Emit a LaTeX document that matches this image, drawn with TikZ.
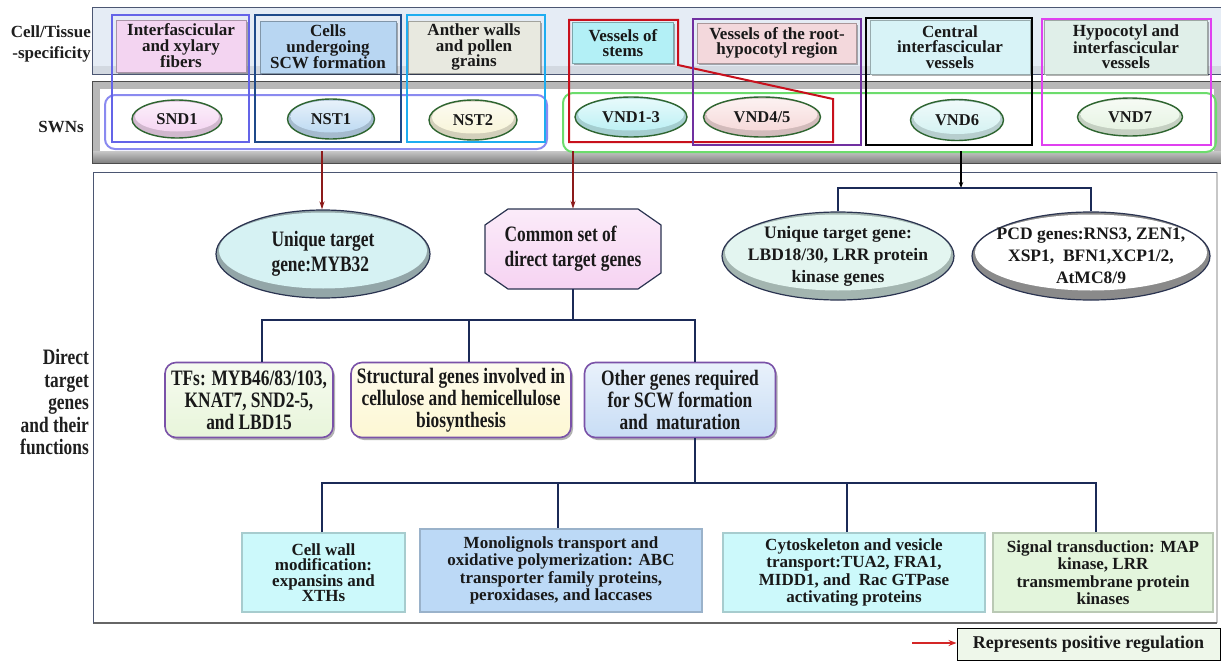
\documentclass[tikz,border=0pt]{standalone}
\usepackage{fontspec}
\setmainfont{Liberation Serif}
\newfontfamily\condserif[FakeStretch=0.79]{Liberation Serif}
\usetikzlibrary{shapes.geometric,calc,arrows.meta,shadows}

% frame and connector colours
\definecolor{framedark}{HTML}{4B5672}
\definecolor{toppanel}{HTML}{E5ECF5}
\definecolor{topband}{HTML}{D3D9E1}
\definecolor{swnbevel}{HTML}{B8B8B8}
\definecolor{conncol}{HTML}{1B2A57}
\definecolor{posreg}{HTML}{8C1A1A}
\definecolor{legendred}{HTML}{D42626}
\definecolor{swnrim}{HTML}{2E6530}
\definecolor{fnrim}{HTML}{7A52A8}
\definecolor{ovrim}{HTML}{2A3350}
% tissue tiles
\definecolor{tileA}{HTML}{F3D4F1}
\definecolor{tileB}{HTML}{B8D6F2}
\definecolor{tileC}{HTML}{E8E9E0}
\definecolor{tileD}{HTML}{B3F0F6}
\definecolor{tileE}{HTML}{F3D8DC}
\definecolor{tileF}{HTML}{D8F3F7}
\definecolor{tileG}{HTML}{E0EFE9}
% SWN ellipses
\definecolor{ndA}{HTML}{F4D0F0}
\definecolor{ndB}{HTML}{B5D5F0}
\definecolor{ndC}{HTML}{F7F3D4}
\definecolor{ndD}{HTML}{B5EFF3}
\definecolor{ndE}{HTML}{F5D5D5}
\definecolor{ndF}{HTML}{CFF0F0}
\definecolor{ndG}{HTML}{E3F2DF}
% group outlines
\definecolor{olSlate}{HTML}{6464E8}
\definecolor{olNavy}{HTML}{1F4A8A}
\definecolor{olSky}{HTML}{1EADF0}
\definecolor{olLav}{HTML}{8A8AF0}
\definecolor{olRed}{HTML}{C8101C}
\definecolor{olPurple}{HTML}{7030A0}
\definecolor{olGreen}{HTML}{6CDC6C}
\definecolor{olMagenta}{HTML}{E040F0}
% target genes
\definecolor{mybface}{HTML}{D6F2F3}
\definecolor{mybrim}{HTML}{93A6A8}
\definecolor{lbdface}{HTML}{E3F5F0}
\definecolor{lbdrim}{HTML}{A3B5B0}
\definecolor{pcdrim}{HTML}{8A8A8A}
\definecolor{octfill}{HTML}{F6D3F2}
\definecolor{fnA}{HTML}{E8F5DA}
\definecolor{fnB}{HTML}{FDF7D3}
\definecolor{fnC}{HTML}{C8DDF5}
\definecolor{leafCyan}{HTML}{CCF9FB}
\definecolor{leafBlue}{HTML}{BCD9F6}
\definecolor{leafGreen}{HTML}{E3F5DC}
\definecolor{legendfill}{HTML}{EEF7EA}

\begin{document}
\begin{tikzpicture}[x=1pt,y=-1pt,
  sidelabel/.style={anchor=east, align=right, text=black!88, inner sep=0pt},
  tilebox/.style n args={3}{fill=#1, draw=#1!70!black, line width=0.6pt, inner sep=0pt,
    minimum width=#2pt, minimum height=#3pt, align=center, text=black!90,
    font=\bfseries\fontsize{17}{15.5}\selectfont,
    drop shadow={shadow xshift=1.5pt, shadow yshift=-2pt, fill=black, opacity=0.3}},
  swn/.style n args={3}{ellipse, inner sep=0pt, minimum width=#2pt, minimum height=#3pt,
    draw=swnrim, line width=1.4pt, fill=#1!70!gray, text=black!90,
    font=\bfseries\fontsize{16.5}{16.5}\selectfont,
    path picture={\shade[top color=#1!30!white, bottom color=#1]
      ([yshift=2.5pt]path picture bounding box.center)
      ellipse [x radius=#2pt/2-3pt, y radius=#3pt/2-4pt];}},
  outline/.style={draw=#1, line width=2pt},
  oval/.style n args={4}{ellipse, inner xsep=-40pt, inner ysep=-16pt,
    minimum width=#1pt, minimum height=#2pt,
    fill=#4, draw=ovrim, line width=1.2pt, align=center, text=black!90,
    path picture={\fill[#3]
      ([yshift=3.5pt]path picture bounding box.center)
      ellipse [x radius=#1pt/2-3pt, y radius=#2pt/2-6pt];}},
  fnbox/.style n args={3}{rounded corners=11pt, draw=fnrim, line width=1.6pt,
    top color=#1!40!white, bottom color=#1, minimum width=#2pt, minimum height=#3pt,
    inner sep=0pt, align=center, text=black!90,
    font=\condserif\bfseries\fontsize{22}{22}\selectfont,
    drop shadow={shadow xshift=2pt, shadow yshift=-2.5pt, fill=black, opacity=0.3}},
  leafbox/.style n args={3}{fill=#1, draw=#1!82!black, line width=1.4pt,
    minimum width=#2pt, minimum height=#3pt, inner sep=0pt, align=center,
    text=black!90, font=\bfseries\fontsize{17}{17.5}\selectfont},
  link/.style={draw=conncol, line width=2pt},
  posarrow/.style={draw=posreg, line width=1.5pt, -{Stealth[length=8pt, width=5pt]}},
]
\useasboundingbox (0,0) rectangle (1221,661);
\fill[white] (0,0) rectangle (1221,661);

% ---- panels ----
\fill[toppanel] (92,8) rectangle (1226,75);
\fill[topband] (92,66) rectangle (1226,75);
\draw[framedark, line width=1pt] (1226,8) -- (92,8) -- (92,75) -- (1226,75);

\fill[swnbevel] (92,82) rectangle (1226,163);
\shade[top color=black!22, bottom color=black!50] (92,151) rectangle (1226,163);
\fill[white] (100,89) rectangle (1214,151);
\draw[black!70, line width=1pt] (1226,82) -- (92,82) -- (92,163) -- (1226,163);

\fill[white] (93,172) rectangle (1217,623);
\draw[black!22, line width=1.2pt] (1217,172) -- (1217,623);
\draw[black!60, line width=2pt] (93,623) -- (1217,623);
\draw[framedark, line width=1pt] (93,623) -- (93,172) -- (1217,172);

% ---- row labels ----
\node[sidelabel, font=\bfseries\fontsize{17}{21.5}\selectfont] (lcell) at (91,44) {Cell/Tissue\\-specificity};
\node[sidelabel, font=\bfseries\fontsize{17}{17}\selectfont] (lswn) at (84,127) {SWNs};
\node[sidelabel, font=\condserif\bfseries\fontsize{22}{22.5}\selectfont] (ldir) at (89,402) {Direct\\target\\genes\\and their\\functions};

% ---- cell / tissue tiles ----
\node[tilebox={tileA}{130}{52}] (t1) at (181,46) {Interfascicular\\and xylary\\fibers};
\node[tilebox={tileB}{136}{52}] (t2) at (328,47) {Cells\\undergoing\\SCW formation};
\node[tilebox={tileC}{132}{52}] (t3) at (474,47) {Anther walls\\and pollen\\grains};
\node[tilebox={tileD}{101}{41}] (t4) at (623,43) {Vessels of\\stems};
\node[tilebox={tileE}{159}{40}] (t5) at (777,43) {Vessels of the root-\\hypocotyl region};
\node[tilebox={tileF}{160}{54}] (t6) at (950,47) {Central\\interfascicular\\vessels};
\node[tilebox={tileG}{163}{54}] (t7) at (1126,47) {Hypocotyl and\\interfascicular\\vessels};

% ---- SWN transcription factors ----
\node[swn={ndA}{90}{38}] (snd1) at (177,119) {SND1};
\node[swn={ndB}{87}{40}] (nst1) at (331,119) {NST1};
\node[swn={ndC}{88}{40}] (nst2) at (473,120) {NST2};
\node[swn={ndD}{112}{40}] (vnd13) at (631,117) {VND1-3};
\node[swn={ndE}{117}{40}] (vnd45) at (762,117) {VND4/5};
\node[swn={ndF}{93}{41}] (vnd6) at (957,120) {VND6};
\node[swn={ndG}{105}{38}] (vnd7) at (1130,117) {VND7};

% ---- group outlines ----
\draw[outline=olLav, rounded corners=10pt] (105,95) rectangle (547,149);
\draw[outline=olSlate] (112,15) rectangle (249,142);
\draw[outline=olNavy] (255,15) rectangle (401,142);
\draw[outline=olSky] (407,15) rectangle (545,142);
\draw[outline=olGreen, rounded corners=10pt] (563,93) rectangle (1216,152);
\draw[outline=olRed] (569,20) -- (678,20) -- (678,65) -- (833,99) -- (833,142) -- (569,142) -- cycle;
\draw[outline=olPurple] (693,19) rectangle (861,145);
\draw[outline=black] (866,18) rectangle (1032,145);
\draw[outline=olMagenta] (1042,19) rectangle (1211,145);

% ---- first level targets ----
\node[oval={214}{88}{mybface}{mybrim}, align=left,
  font=\condserif\bfseries\fontsize{22}{25}\selectfont] (myb) at (323,254) {Unique target\\gene:MYB32};

\coordinate (cc) at (573,249);
\draw[ovrim, line width=1.2pt, top color=octfill!45!white, bottom color=octfill]
  ($(cc)+(-65,-40)$) -- ($(cc)+(65,-40)$) -- ($(cc)+(88,-24)$) -- ($(cc)+(88,24)$)
  -- ($(cc)+(65,40)$) -- ($(cc)+(-65,40)$) -- ($(cc)+(-88,24)$) -- ($(cc)+(-88,-24)$) -- cycle;
\node[minimum width=176pt, minimum height=80pt, inner sep=0pt, align=left, text=black!90,
  font=\condserif\bfseries\fontsize{22}{25}\selectfont] (common) at (cc) {Common set of\\direct target genes};

\node[oval={232}{88}{lbdface}{lbdrim}, font=\bfseries\fontsize{17.5}{22}\selectfont] (lbd) at (838,256)
  {Unique target gene:\\LBD18/30, LRR protein\\kinase genes};
\node[oval={238}{88}{white}{pcdrim}, font=\bfseries\fontsize{17.5}{22}\selectfont] (pcd) at (1091,256)
  {PCD genes:RNS3, ZEN1,\\XSP1,~ BFN1,XCP1/2,\\AtMC8/9};

% ---- functional classes ----
\node[fnbox={fnA}{168}{75}] (tfs) at (249,400) {TFs: MYB46/83/103,\\KNAT7, SND2-5,\\and LBD15};
\node[fnbox={fnB}{220}{75}] (struct) at (461,400) {Structural genes involved in\\cellulose and hemicellulose\\biosynthesis};
\node[fnbox={fnC}{191}{75}] (other) at (680,400) {Other genes required\\for SCW formation\\and~ maturation};

% ---- further targets ----
\node[leafbox={leafCyan}{163}{79}, font=\bfseries\fontsize{17}{15.5}\selectfont] (cellwall) at (323.5,572.5)
  {Cell wall\\modification:\\expansins and\\XTHs};
\node[leafbox={leafBlue}{282}{83}] (mono) at (561,570.5)
  {Monolignols transport and\\oxidative polymerization: ABC\\transporter family proteins,\\peroxidases, and laccases};
\node[leafbox={leafCyan}{262}{79}] (cyto) at (854,572.5)
  {Cytoskeleton and vesicle\\transport:TUA2, FRA1,\\MIDD1, and~ Rac GTPase\\activating proteins};
\node[leafbox={leafGreen}{220}{79}] (signal) at (1103,572.5)
  {Signal transduction: MAP\\kinase, LRR\\transmembrane protein\\kinases};

% ---- regulation arrows ----
\coordinate (src1) at (322,151);
\coordinate (src2) at (573,151);
\coordinate (src3) at (961,151);
\draw[posarrow] (src1) -- (src1 |- myb.north);
\draw[posarrow] (src2) -- (src2 |- common.north);
\coordinate (j3) at (961,188);
\draw[black, line width=1.2pt, -{Stealth[length=6pt, width=4.5pt]}] (src3) -- (j3);
\draw[link] (lbd.north) |- (j3) -| (pcd.north);

% ---- first branching ----
\coordinate (b1l) at (262,320);
\coordinate (b1m) at (469,320);
\coordinate (b1r) at (695,320);
\draw[link] (common.south) -- (common.south |- b1l);
\draw[link] (b1l |- tfs.north) -- (b1l) -- (b1r) -- (b1r |- other.north);
\draw[link] (b1m) -- (b1m |- struct.north);

% ---- second branching ----
\coordinate (b2a) at (322,483);
\coordinate (b2b) at (558,483);
\coordinate (b2c) at (847,483);
\coordinate (b2d) at (1096,483);
\coordinate (j2) at (695,483);
\draw[link] (j2 |- other.south) -- (j2);
\draw[link] (b2a |- cellwall.north) -- (b2a) -- (b2d) -- (b2d |- signal.north);
\draw[link] (b2b) -- (b2b |- mono.north);
\draw[link] (b2c) -- (b2c |- cyto.north);

% ---- legend ----
\node[draw=black, line width=1pt, fill=legendfill, minimum width=263pt, minimum height=32pt,
  inner sep=0pt, text=black!90, font=\bfseries\fontsize{18}{18}\selectfont] (legend) at (1088.5,644)
  {Represents positive regulation};
\coordinate (legtail) at (912,643);
\draw[legendred, line width=1.6pt, -{Stealth[length=8pt, width=6pt]}] (legtail) -- (legtail -| legend.west);
\end{tikzpicture}
\end{document}
